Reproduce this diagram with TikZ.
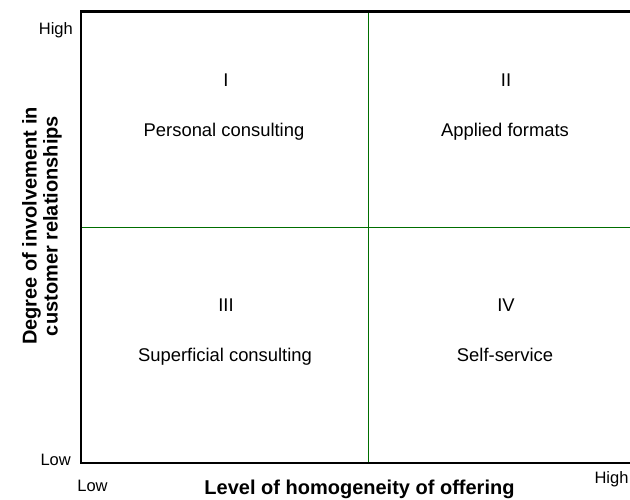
\documentclass[tikz,border=0pt]{standalone}
\usepackage{fontspec}
\setmainfont{Liberation Sans}
\usepackage{tikz}
\usetikzlibrary{calc}

\begin{document}
\begin{tikzpicture}[x=1pt,y=1pt,
  frame/.style={line width=2.6pt},
  divider/.style={line width=1pt,draw={rgb,255:red,0;green,110;blue,0}},
  tick/.style={font=\fontsize{16.5}{18}\selectfont,inner sep=0pt},
  quad/.style={font=\fontsize{18.4}{20}\selectfont,anchor=base,inner sep=0pt},
  axis/.style={font=\fontsize{20}{21}\selectfont\bfseries,inner sep=0pt}]

\useasboundingbox (0,0) rectangle (630,500);

\begin{scope}
% frame: left, top and bottom only
\coordinate (tl) at (81,488.5);
\coordinate (bl) at (81,37);
\coordinate (tr) at (630,488.5);
\coordinate (br) at (630,37);
\coordinate (vt) at (368,488.5);
\coordinate (vb) at (368,37);
\coordinate (hl) at (81,272.5);
\coordinate (hr) at (630,272.5);

\draw[divider] (vt)--(vb);
\draw[divider] (hl)--(hr);
\draw[frame] (tr)--(tl)--(bl)--(br);

 \node[tick,anchor=east] (yhigh) at (73,470) {High};
 \node[tick,anchor=east] (ylow) at (71,40) {Low};
 \node[tick] (xlow) at (92.5,14) {Low};
 \node[tick] (xhigh) at (611.5,21) {High};

 \node[axis,anchor=base] (xlabel) at (359.5,5) {Level of homogeneity of offering};
 \node[axis,rotate=90,align=center] (ylabel) at (42,274)
   {Degree of involvement in\\customer relationships};

 \node[quad] (qInum) at (226,413) {I};
 \node[quad] (qItxt) at (224,363) {Personal consulting};
 \node[quad] (qIInum) at (506,413) {II};
 \node[quad] (qIItxt) at (505,363) {Applied formats};
 \node[quad] (qIIInum) at (226,188) {III};
 \node[quad] (qIIItxt) at (225,138) {Superficial consulting};
 \node[quad] (qIVnum) at (506,188) {IV};
 \node[quad] (qIVtxt) at (505,138) {Self-service};
\end{scope}

\end{tikzpicture}
\end{document}
